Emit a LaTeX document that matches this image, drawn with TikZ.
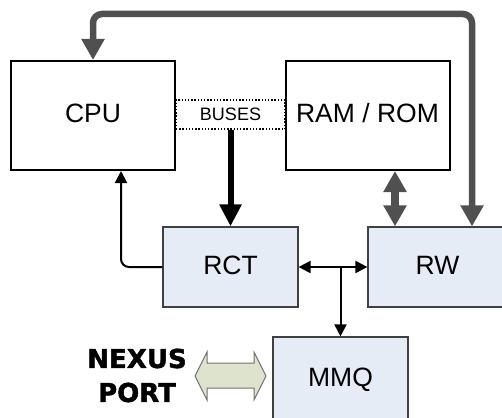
\documentclass[tikz,border=0pt]{standalone}
\usepackage{fontspec}
\setmainfont{Liberation Sans}
\newfontfamily\heavyfont{DejaVu Sans}[BoldFeatures={FakeBold=1.6}]
\usetikzlibrary{arrows.meta}
\definecolor{boxblue}{HTML}{E6ECF6}
\definecolor{arrgray}{HTML}{505050}
\definecolor{portgreen}{HTML}{DDE3CC}
\definecolor{portedge}{HTML}{707070}
\begin{document}
\begin{tikzpicture}[x=1pt,y=-1pt,
  lbl/.style={font=\fontsize{26.5}{30}\selectfont,text height=19pt,text depth=5pt,inner sep=0pt},
  mainbox/.style={lbl,draw=black,line width=2pt,fill=white,minimum width=164pt,minimum height=109pt},
  subbox/.style={lbl,draw=black!75,line width=1.2pt,fill=boxblue,minimum width=135pt,minimum height=80pt},
  busbox/.style={draw=black,dash pattern=on 1.4pt off 1.8pt,line width=1.1pt,fill=white,minimum width=109pt,minimum height=29pt,inner sep=0pt,font=\fontsize{18}{20}\selectfont},
  grayline/.style={draw=arrgray,line width=6.5pt,{Triangle[length=21pt,width=22pt]}-{Triangle[length=21pt,width=22pt]}},
  grayduo/.style={draw=arrgray,line width=8pt,{Triangle[length=21pt,width=22pt]}-{Triangle[length=21pt,width=22pt]}},
  busarrow/.style={draw=black,line width=6pt,-{Triangle[length=22pt,width=21pt]}},
  thinarrow/.style={draw=black,line width=2pt,-{Triangle[length=12pt,width=12pt]}},
  thinduo/.style={draw=black,line width=2pt,{Triangle[length=12pt,width=12pt]}-{Triangle[length=12pt,width=12pt]}}
]
\useasboundingbox (0,0) rectangle (502,417);

\node[mainbox] (CPU) at (93,115.5) {CPU};
\node[mainbox] (RAM) at (367.5,115.5) {RAM / ROM};
\node[busbox] (buses) at (230.5,114.5) {BUSES};
\node[subbox] (RCT) at (230.5,267) {RCT};
\node[subbox,minimum width=139pt] (RW) at (437.5,267) {RW};
\node[subbox,minimum height=84pt] (MMQ) at (340.5,379) {MMQ};

\node[font=\heavyfont\bfseries\fontsize{26}{34}\selectfont,align=center,inner sep=0pt] (nexus) at (137,375.5) {NEXUS\\PORT};

% NEXUS block arrow
\draw[fill=portgreen,draw=portedge,line width=1pt,line join=miter]
  (195,376) -- (207,352) -- (207,363) -- (254,363) -- (254,352) -- (266,376)
  -- (254,400) -- (254,388) -- (207,388) -- (207,400) -- cycle;

% big gray loop RW -> CPU
\coordinate (looptop) at (0,14);
\coordinate (rwtop) at ([xshift=34.5pt]RW.north);
\draw[grayline,rounded corners=9pt] (rwtop) -- (rwtop |- looptop) -| (CPU.north);

% RAM <-> RW
\coordinate (ramlow) at ([xshift=27.5pt]RAM.south);
\draw[grayduo] (ramlow) -- (ramlow |- RW.north);

% BUSES -> RCT
\draw[busarrow] (buses.south) -- (RCT.north);

% RCT -> CPU
\draw[thinarrow,rounded corners=8pt] (RCT.west) -| ([xshift=28pt]CPU.south);

% RCT <-> RW
\draw[thinduo] (RCT.east) -- (RW.west);
\coordinate (junc) at (MMQ.north |- RCT.east);
\draw[thinarrow] (junc) -- (MMQ.north);
\end{tikzpicture}
\end{document}
